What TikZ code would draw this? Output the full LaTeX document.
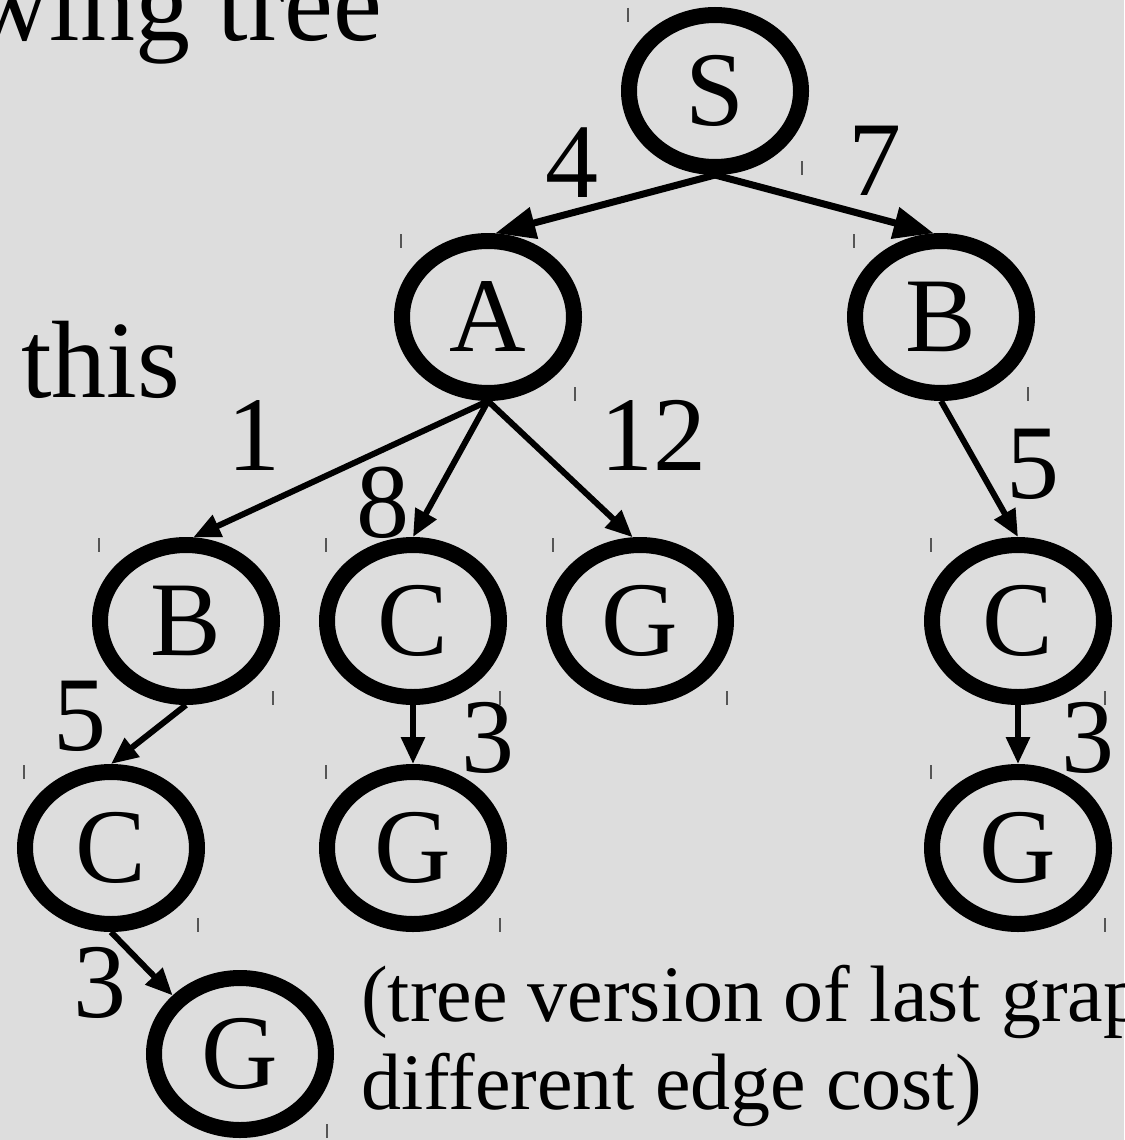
\documentclass[tikz,border=0pt]{standalone}
\usepackage{fontspec}
\setmainfont{Liberation Serif}
\usetikzlibrary{shapes.geometric,arrows.meta}
\definecolor{bg}{RGB}{221,221,221}
\definecolor{tickc}{RGB}{85,85,85}
\begin{document}
\begin{tikzpicture}[x=1pt,y=-1pt,
  tn/.style={ellipse,draw=black,line width=16pt,minimum width=172pt,minimum height=152pt,inner sep=0pt,font=\fontsize{106}{110}\selectfont},
  bigedge/.style={line width=7pt,-{Triangle[length=40pt,width=31pt]}},
  smledge/.style={line width=6pt,-{Triangle[length=27pt,width=23pt]}},
  lbl/.style={anchor=base,inner sep=0pt,font=\fontsize{106}{110}\selectfont},
  bigtxt/.style={anchor=base west,inner sep=0pt,font=\fontsize{110}{120}\selectfont},
  captxt/.style={anchor=base west,inner sep=0pt,font=\fontsize{80}{88}\selectfont},
  tk/.style={draw=tickc,line width=1.5pt}]
\fill[bg] (0,0) rectangle (1124,1140);
\useasboundingbox (0,0) rectangle (1124,1140);
\clip (0,0) rectangle (1124,1140);

% selection-handle ticks
\foreach \cx/\cy in {715/91,488/317,941/317,186/621,413/621,640/621,1018/621,111/848,413/848,1018/848,240/1054}{
  \draw[tk] ({\cx-87},{\cy-83}) -- ({\cx-87},{\cy-69});
  \draw[tk] ({\cx+87},{\cy+70}) -- ({\cx+87},{\cy+84});
}

% nodes
\node[tn] (S) at (715,91) {S};
\node[tn] (A) at (488,317) {A};
\node[tn] (B1) at (941,317) {B};
\node[tn] (B2) at (186,621) {B};
\node[tn] (C2) at (413,621) {C};
\node[tn] (G2) at (640,621) {G};
\node[tn] (C2r) at (1018,621) {C};
\node[tn] (C3) at (111,848) {C};
\node[tn] (G3) at (413,848) {G};
\node[tn] (G3r) at (1018,848) {G};
\node[tn] (G4) at (240,1054) {G};

% edges
\draw[bigedge] (S.south) -- (A.85);
\draw[bigedge] (S.south) -- (B1.95);
\draw[smledge] (A.south) -- (B2.85);
\draw[smledge] (A.south) -- (C2.north);
\draw[smledge] (A.south) -- (G2.95);
\draw[smledge] (B1.south) -- (C2r.north);
\draw[smledge] (B2.south) -- (C3.north);
\draw[smledge] (C2.south) -- (G3.north);
\draw[smledge] (C2r.south) -- (G3r.north);
\draw[smledge] (C3.south) -- (G4.139);

% edge labels
\node[lbl] (l4) at (572,197) {4};
\node[lbl] (l7) at (875,195) {7};
\node[lbl] (l1) at (254,470) {1};
\node[lbl] (l8) at (383,537) {8};
\node[lbl] (l12) at (653,470) {12};
\node[lbl] (l5r) at (1033,498) {5};
\node[lbl] (l5l) at (80,750) {5};
\node[lbl] (l3c) at (488,772) {3};
\node[lbl] (l3r) at (1088,772) {3};
\node[lbl] (l3b) at (100,1017) {3};

% texts
\node[bigtxt] (t1) at (-30,41) {wing tree};
\node[bigtxt] (t2) at (21,397) {this};
\node[captxt] (c1) at (361,1021) {(tree version of last grap};
\node[captxt] (c2) at (361,1109) {different edge cost)};
\end{tikzpicture}
\end{document}
